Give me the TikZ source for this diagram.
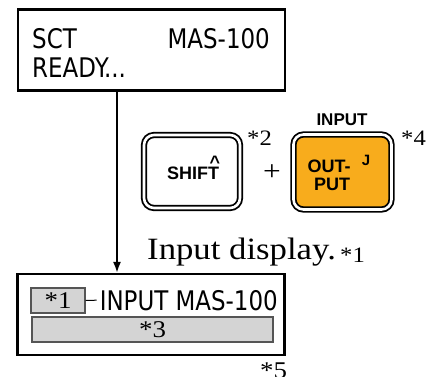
\documentclass[tikz,border=0pt]{standalone}
\usepackage{fontspec}
\setmainfont{Liberation Serif}[FakeStretch=1.12]
\newfontfamily\lcdfont{DejaVu Sans}[FakeStretch=0.85]
\newfontfamily\keyfont{Liberation Sans}
\usetikzlibrary{arrows.meta}
\definecolor{keyorange}{HTML}{F8AC1C}
\definecolor{lcdgray}{HTML}{D4D4D4}
\definecolor{lcdedge}{HTML}{555555}

\begin{document}
\begin{tikzpicture}[x=1pt,y=-1pt,
  lcd/.style={draw,line width=2.2pt,minimum width=267pt,minimum height=81pt,inner sep=0pt},
  lcdtxt/.style={inner sep=0pt,font=\lcdfont\fontsize{27}{27}\selectfont},
  key/.style={draw,line width=1.8pt,double=white,double distance=2.6pt,rounded corners=10pt,inner sep=0pt},
  keytxt/.style={inner sep=0pt,font=\keyfont\bfseries\fontsize{18}{18}\selectfont},
  note/.style={inner sep=0pt,font=\fontsize{22}{22}\selectfont},
  field/.style={draw=lcdedge,fill=lcdgray,line width=1.2pt,inner sep=0pt,font=\fontsize{24}{24}\selectfont}]
  \useasboundingbox (0,0) rectangle (433,376);

  % display before
  \node[lcd] (ready) at (151.5,50) {};
  \node[lcdtxt,anchor=base west] (sct) at (32,48) {SCT};
  \node[lcdtxt,anchor=base east] (mas) at (270,48) {MAS-100};
  \node[lcdtxt,anchor=base west] (rdy) at (32,77) {READY...};

  % keys
  \node[key,minimum width=96pt,minimum height=73pt] (shift) at (192,171.5) {};
  \node[keytxt] (shtxt) at (193,173) {SHIFT};
  \node[keytxt,anchor=base] (caret) at (215,168) {\textasciicircum};
  \node[note,anchor=base west] (n2) at (247,145) {*2};
  \node[inner sep=0pt,font=\fontsize{28}{28}\selectfont] (plus) at (272,172.5) {+};
  \node[key,fill=keyorange,minimum width=98pt,minimum height=75pt] (output) at (342.5,172) {};
  \node[keytxt,anchor=base] (out) at (329,172) {OUT-};
  \node[keytxt,anchor=base] (put) at (332,190) {PUT};
  \node[keytxt,font=\keyfont\bfseries\fontsize{15}{15}\selectfont,anchor=base] (jtxt) at (366,165) {J};
  \node[keytxt,font=\keyfont\bfseries\fontsize{17}{17}\selectfont,anchor=base] (intxt) at (342,125) {INPUT};
  \node[note,anchor=base west] (n4) at (401,145) {*4};

  % display after
  \node[inner sep=0pt,font=\fontsize{31}{31}\selectfont,anchor=base west] (indisp) at (147,259) {Input display.};
  \node[note,anchor=base west] (n1) at (340,262) {*1};
  \node[lcd] (disp) at (151,314.5) {};
  \node[field,minimum width=54pt,minimum height=25pt] (f1) at (58,300.5) {*1};
  \node[lcdtxt,anchor=base east] (inmas) at (278,310) {INPUT MAS-100};
  \draw[line width=1pt] (f1.east) -- ([xshift=-3pt]inmas.west);
  \node[field,minimum width=241pt,minimum height=25pt] (f3) at (152.5,329.5) {*3};
  \node[note,font=\fontsize{24}{24}\selectfont,anchor=base west] (n5) at (260,378) {*5};

  \coordinate (ax) at (117,0);
  \draw[line width=1.8pt,-{Latex[length=11pt,width=8pt]}] (ready.south -| ax) -- (disp.north -| ax);
\end{tikzpicture}
\end{document}
